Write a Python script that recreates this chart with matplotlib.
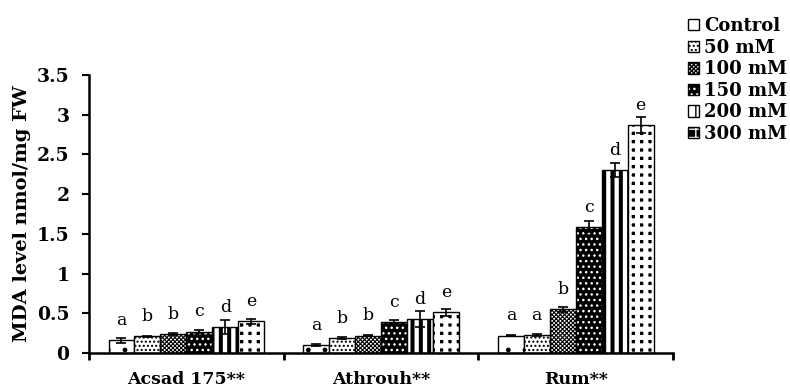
import matplotlib
matplotlib.use('Agg')
import matplotlib.pyplot as plt
import numpy as np

cultivars = ['Acsad 175**', 'Athrouh**', 'Rum**']
treatments = ['Control', '50 mM', '100 mM', '150 mM', '200 mM', '300 mM']

control = [0.16, 0.10, 0.22]
mm50 = [0.21, 0.19, 0.23]
mm100 = [0.24, 0.22, 0.55]
mm150 = [0.27, 0.39, 1.59]
mm200 = [0.33, 0.43, 2.30]
mm300 = [0.40, 0.51, 2.87]

control_err = [0.03, 0.01, 0.01]
mm50_err = [0.01, 0.01, 0.01]
mm100_err = [0.01, 0.01, 0.03]
mm150_err = [0.02, 0.02, 0.07]
mm200_err = [0.09, 0.10, 0.09]
mm300_err = [0.03, 0.04, 0.10]

letters_acsad = ['a', 'b', 'b', 'c', 'd', 'e']
letters_athrouh = ['a', 'b', 'b', 'c', 'd', 'e']
letters_rum = ['a', 'a', 'b', 'c', 'd', 'e']

values = [control, mm50, mm100, mm150, mm200, mm300]
errors = [control_err, mm50_err, mm100_err, mm150_err, mm200_err, mm300_err]
letters = [letters_acsad, letters_athrouh, letters_rum]

# face colour, hatch colour, hatch, hatch linewidth
styles = [
    ('white', 'black', '.', 1.0),
    ('white', 'black', '....', 1.0),
    ('white', 'black', 'xxxxxxxx', 0.8),
    ('black', 'white', '...', 1.0),
    ('white', 'black', '||', 2.9),
    ('black', 'white', '++', 3.6),
]

serif = ['DejaVu Serif']
plt.rcParams['font.family'] = serif

fig = plt.figure(figsize=(7.9, 3.92), dpi=100)
ax = fig.add_axes([0.1127, 0.0995, 0.852 - 0.1127, 0.8087 - 0.0995])

x = np.arange(len(cultivars))
width = 0.8 / len(treatments)
handles = []
for i, (name, vals, errs) in enumerate(zip(treatments, values, errors)):
    face, hc, hatch, hlw = styles[i]
    pos = x - 0.4 + width * (i + 0.5)
    with plt.rc_context({'hatch.linewidth': hlw}):
        under = ax.bar(pos, vals, width, color=face, edgecolor=hc, hatch=hatch, linewidth=0)
        for p in under:
            if hasattr(p, 'set_hatch_linewidth'):
                p.set_hatch_linewidth(hlw)
    over = ax.bar(pos, vals, width, fill=False, edgecolor='black', linewidth=1.0)
    ax.errorbar(pos, vals, yerr=errs, fmt='none', ecolor='black', elinewidth=1.2,
                capsize=3.5, capthick=1.2)
    for j in range(len(cultivars)):
        ax.annotate(letters[j][i], (pos[j], vals[j]), xytext=(0, 8), textcoords='offset points',
                    ha='center', va='bottom', fontsize=12.5, family=serif)
    handles.append((under[0], over[0]))

ax.set_xlim(-0.5, len(cultivars) - 0.5)
ax.set_ylim(0, 3.5)
ax.set_yticks(np.arange(0, 3.51, 0.5))
ax.set_yticklabels(['0', '0.5', '1', '1.5', '2', '2.5', '3', '3.5'], fontweight='bold', fontsize=13.5)
ax.set_xticks(x)
ax.set_xticklabels(cultivars, fontweight='bold', fontsize=12.5)
ax.set_xticks(np.arange(-0.5, len(cultivars), 1.0), minor=True)
ax.tick_params(axis='x', which='major', length=0, pad=13)
ax.tick_params(axis='x', which='minor', length=5, width=2, direction='out')
ax.tick_params(axis='y', which='major', length=5, width=1.5, direction='out', pad=9)
for s in ['top', 'right']:
    ax.spines[s].set_visible(False)
for s in ['left', 'bottom']:
    ax.spines[s].set_linewidth(1.8)
ax.set_ylabel('MDA level nmol/mg FW', fontweight='bold', fontsize=14, labelpad=4)

fig.legend(handles, treatments, loc='upper left', bbox_to_anchor=(0.862, 0.975),
           frameon=False, handlelength=0.6, handleheight=0.6, handletextpad=0.3,
           labelspacing=0.2, borderaxespad=0,
           prop={'weight': 'bold', 'size': 13, 'family': serif})

fig.savefig('out.png', dpi=100)
